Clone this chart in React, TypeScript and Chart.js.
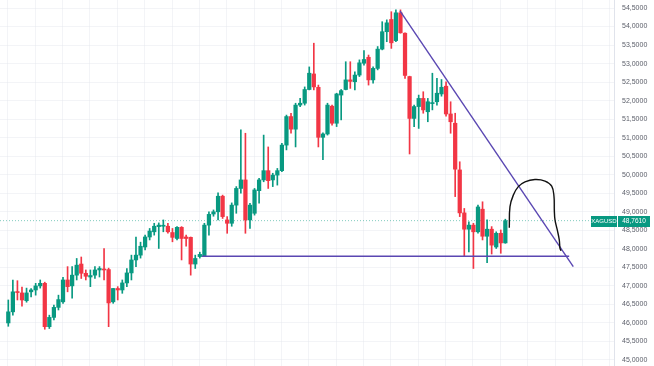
import { useEffect, useRef } from 'react';
import { Chart, registerables } from 'chart.js';

Chart.register(...registerables);

const symbol = 'XAGUSD';
const lastPrice = 48.761;

const opens = [
  46.00, 46.30, 46.84, 46.81, 46.60, 46.84, 46.89, 47.00, 47.07, 45.90,
  46.15, 46.42, 46.57, 47.16, 47.00, 47.29, 47.59, 47.34, 47.24, 47.29,
  47.43, 47.45, 47.44, 46.57, 46.93, 46.89, 47.08, 47.35, 47.70, 47.83,
  48.05, 48.32, 48.46, 48.60, 48.61, 48.61, 48.44, 48.28, 48.58, 48.32,
  48.31, 47.59, 47.79, 47.79, 48.64, 48.94, 49.00, 49.42, 48.78, 48.69,
  49.18, 49.63, 49.86, 48.78, 48.96, 49.57, 49.86, 50.11, 49.86, 49.99,
  50.11, 50.80, 51.57, 51.23, 51.88, 51.93, 52.30, 52.72, 52.36, 51.01,
  51.10, 51.85, 51.39, 52.15, 52.30, 52.56, 52.51, 52.69, 53.01, 53.17,
  52.56, 52.87, 53.39, 53.86, 54.19, 53.62, 54.37, 53.82, 52.65, 51.52,
  51.84, 52.06, 51.70, 51.92, 51.97, 52.18, 52.39, 51.64, 51.39, 50.13,
  48.97, 48.53, 48.64, 48.46, 49.07, 48.34, 48.53, 48.05, 48.42, 48.16,
];

const closes = [
  46.30, 46.84, 46.82, 46.62, 46.81, 46.89, 47.00, 47.07, 45.90, 46.15,
  46.42, 46.63, 47.16, 46.98, 47.29, 47.56, 47.34, 47.26, 47.28, 47.43,
  47.47, 47.43, 46.54, 46.93, 46.89, 47.08, 47.35, 47.70, 47.83, 48.07,
  48.32, 48.48, 48.61, 48.64, 48.62, 48.46, 48.31, 48.58, 48.28, 48.28,
  47.59, 47.74, 47.85, 48.64, 48.93, 49.00, 49.42, 48.87, 48.69, 49.18,
  49.63, 49.86, 48.78, 49.18, 49.59, 49.86, 50.11, 49.84, 49.99, 50.11,
  50.80, 51.57, 51.23, 51.88, 51.93, 52.30, 52.74, 52.37, 51.01, 51.10,
  51.88, 51.39, 52.18, 52.27, 52.56, 52.52, 52.69, 53.02, 53.11, 52.56,
  52.87, 53.39, 53.86, 54.10, 53.56, 54.37, 53.83, 52.68, 51.52, 51.84,
  52.06, 51.75, 51.97, 51.94, 52.20, 52.36, 51.64, 51.43, 50.15, 48.97,
  48.53, 48.64, 48.46, 49.13, 48.34, 48.53, 48.10, 48.42, 48.16, 48.761,
];

const highs = [
  46.62, 47.16, 47.14, 46.97, 46.94, 46.93, 47.07, 47.16, 47.10, 46.21,
  46.48, 46.75, 47.23, 47.52, 47.52, 47.74, 47.78, 47.43, 47.43, 47.52,
  47.52, 48.01, 47.48, 46.93, 46.98, 47.16, 47.47, 47.83, 48.32, 48.18,
  48.37, 48.55, 48.69, 48.70, 48.78, 48.69, 48.55, 48.60, 48.60, 48.37,
  48.32, 47.83, 47.91, 48.69, 49.00, 49.05, 49.51, 49.45, 48.87, 49.24,
  49.68, 51.21, 51.12, 49.23, 49.63, 49.90, 51.07, 50.75, 50.04, 50.17,
  50.85, 51.61, 51.66, 51.93, 52.06, 52.37, 52.91, 53.55, 52.42, 51.13,
  51.93, 51.88, 52.20, 52.30, 53.05, 53.05, 52.78, 53.10, 53.35, 53.23,
  52.91, 53.46, 54.13, 54.18, 54.40, 54.45, 54.45, 53.83, 52.66, 51.88,
  52.15, 52.24, 52.06, 52.74, 52.60, 52.57, 52.51, 51.97, 51.66, 50.35,
  49.09, 48.73, 48.69, 49.18, 49.27, 48.78, 48.60, 48.46, 48.51, 48.80,
];

const lows = [
  45.91, 46.21, 46.62, 46.45, 46.56, 46.70, 46.75, 46.94, 45.83, 45.85,
  46.08, 46.35, 46.53, 46.84, 46.67, 47.16, 47.20, 47.16, 46.98, 47.20,
  47.24, 47.16, 45.90, 46.53, 46.62, 46.80, 46.98, 47.16, 47.52, 47.75,
  47.97, 48.24, 48.37, 48.01, 48.46, 48.42, 48.19, 48.24, 47.70, 48.07,
  47.29, 47.47, 47.75, 47.79, 48.37, 48.88, 48.78, 48.82, 48.42, 48.61,
  48.96, 49.50, 48.42, 48.55, 48.91, 49.23, 49.81, 49.63, 49.68, 49.72,
  50.08, 50.67, 51.12, 50.75, 51.84, 51.88, 52.29, 52.29, 50.75, 50.41,
  51.07, 51.34, 51.30, 51.48, 52.29, 52.33, 52.29, 52.65, 52.96, 52.42,
  52.47, 52.83, 53.37, 53.59, 53.41, 53.59, 53.82, 52.60, 50.56, 51.30,
  51.25, 51.66, 51.43, 51.75, 51.88, 52.12, 51.58, 51.12, 49.41, 48.87,
  47.79, 47.92, 47.47, 48.42, 48.24, 47.63, 47.86, 48.01, 47.88, 48.15,
];

const priceTicks = [
  45, 45.5, 46, 46.5, 47, 47.5, 48, 48.5, 49, 49.5,
  50, 50.5, 51, 51.5, 52, 52.5, 53, 53.5, 54, 54.5,
];

// drawn trendlines (x = bar index, y = price)
const resistanceX = [85.9, 123.9];
const resistanceY = [54.42, 47.52];
const supportX = [42.5, 123.0];
const supportY = [47.80, 47.80];

// hand-drawn sketch
const sketchX = [109.87, 110.02, 110.75, 111.84, 113.31, 115.5, 117.7, 119.17, 119.67, 119.74, 119.89, 120.39, 120.83, 120.99, 121.21];
const sketchY = [48.57, 49.14, 49.45, 49.68, 49.81, 49.87, 49.83, 49.69, 49.41, 49.05, 48.78, 48.51, 48.24, 48.01, 47.95];

const X_MIN = -1.82;
const X_MAX = 132.83;
const Y_MIN = 44.838;
const Y_MAX = 54.716;

const UP = '#089981';
const DOWN = '#f23645';
const TREND = '#5a47b2';
const GRID = 'rgba(228,231,238,0.45)';

const fmt = (v: number) => v.toFixed(4).replace('.', ',');

const zeroPad = (s: any) => {
  s.paddingTop = 0;
  s.paddingBottom = 0;
  s.paddingLeft = 0;
  s.paddingRight = 0;
};

const priceTagPlugin = {
  id: 'priceTag',
  afterDraw(chart: any) {
    const { ctx, chartArea, scales } = chart;
    const y = Math.round(scales.y.getPixelForValue(lastPrice));
    const r = chartArea.right;
    ctx.save();
    ctx.fillStyle = UP;
    ctx.fillRect(r - 23, y - 5, 26, 11);
    ctx.fillRect(r + 4, y - 5, 32, 11);
    ctx.fillStyle = '#ffffff';
    ctx.font = '6px "Liberation Sans", Arial, sans-serif';
    ctx.textAlign = 'center';
    ctx.textBaseline = 'middle';
    ctx.fillText(symbol, r - 10, y + 0.5);
    ctx.font = '6.5px "Liberation Sans", Arial, sans-serif';
    ctx.fillText(fmt(lastPrice), r + 20, y + 0.5);
    ctx.restore();
  },
};

export default function App() {
  const ref = useRef<HTMLCanvasElement | null>(null);

  useEffect(() => {
    if (!ref.current) return;
    const idx = opens.map((_, i) => i);
    const colors = idx.map((i) => (closes[i] >= opens[i] ? UP : DOWN));
    const gridX = Array.from({ length: 23 }, (_, k) => k * 6 - 0.1);

    const chart = new Chart(ref.current, {
      type: 'bar',
      data: {
        datasets: [
          {
            type: 'line',
            data: sketchX.map((x, i) => ({ x, y: sketchY[i] })),
            borderColor: '#111111',
            borderWidth: 1.4,
            pointRadius: 0,
            tension: 0.4,
            fill: false,
            order: 0,
          } as any,
          {
            type: 'line',
            data: resistanceX.map((x, i) => ({ x, y: resistanceY[i] })),
            borderColor: TREND,
            borderWidth: 1.4,
            pointRadius: 0,
            fill: false,
            order: 0,
          } as any,
          {
            type: 'line',
            data: supportX.map((x, i) => ({ x, y: supportY[i] })),
            borderColor: TREND,
            borderWidth: 1.4,
            pointRadius: 0,
            fill: false,
            order: 0,
          } as any,
          {
            type: 'line',
            data: [
              { x: X_MIN, y: lastPrice },
              { x: X_MAX, y: lastPrice },
            ],
            borderColor: 'rgba(8,153,129,0.5)',
            borderWidth: 1,
            borderDash: [1, 2],
            pointRadius: 0,
            fill: false,
            order: 5,
          } as any,
          {
            type: 'bar',
            data: idx.map((i) => ({ x: i, y: [lows[i], highs[i]] })),
            backgroundColor: colors,
            barThickness: 1,
            grouped: false,
            order: 3,
          } as any,
          {
            type: 'bar',
            data: idx.map((i) => ({ x: i, y: [opens[i], closes[i]] })),
            backgroundColor: colors,
            barThickness: 3.6,
            minBarLength: 1,
            grouped: false,
            order: 2,
          } as any,
        ],
      },
      options: {
        responsive: false,
        animation: false,
        devicePixelRatio: 1,
        layout: { padding: 0 },
        plugins: { legend: { display: false }, tooltip: { enabled: false } },
        scales: {
          x: {
            type: 'linear',
            min: X_MIN,
            max: X_MAX,
            offset: false,
            afterBuildTicks: (s: any) => {
              s.ticks = gridX.map((v) => ({ value: v }));
            },
            afterFit: (s: any) => {
              s.height = 0;
              zeroPad(s);
            },
            ticks: { display: false },
            grid: { color: GRID, drawTicks: false, offset: false },
            border: { display: false },
          },
          y: {
            type: 'linear',
            position: 'right',
            min: Y_MIN,
            max: Y_MAX,
            afterBuildTicks: (s: any) => {
              s.ticks = priceTicks.map((v) => ({ value: v }));
            },
            afterFit: (s: any) => {
              s.width = 40;
              zeroPad(s);
            },
            grid: { color: GRID, drawTicks: false },
            border: { display: true, color: '#e0e3eb' },
            ticks: {
              autoSkip: false,
              padding: 8,
              color: '#5d606b',
              font: { size: 7, family: '"Liberation Sans", Arial, sans-serif' },
              callback: (v: any) => fmt(Number(v)),
            },
          },
        },
      } as any,
      plugins: [priceTagPlugin],
    });
    return () => chart.destroy();
  }, []);

  return (
    <div style={{ position: 'absolute', left: 0, top: 0, width: 654, height: 366, background: '#ffffff' }}>
      <canvas ref={ref} width={654} height={366} style={{ display: 'block' }} />
    </div>
  );
}
